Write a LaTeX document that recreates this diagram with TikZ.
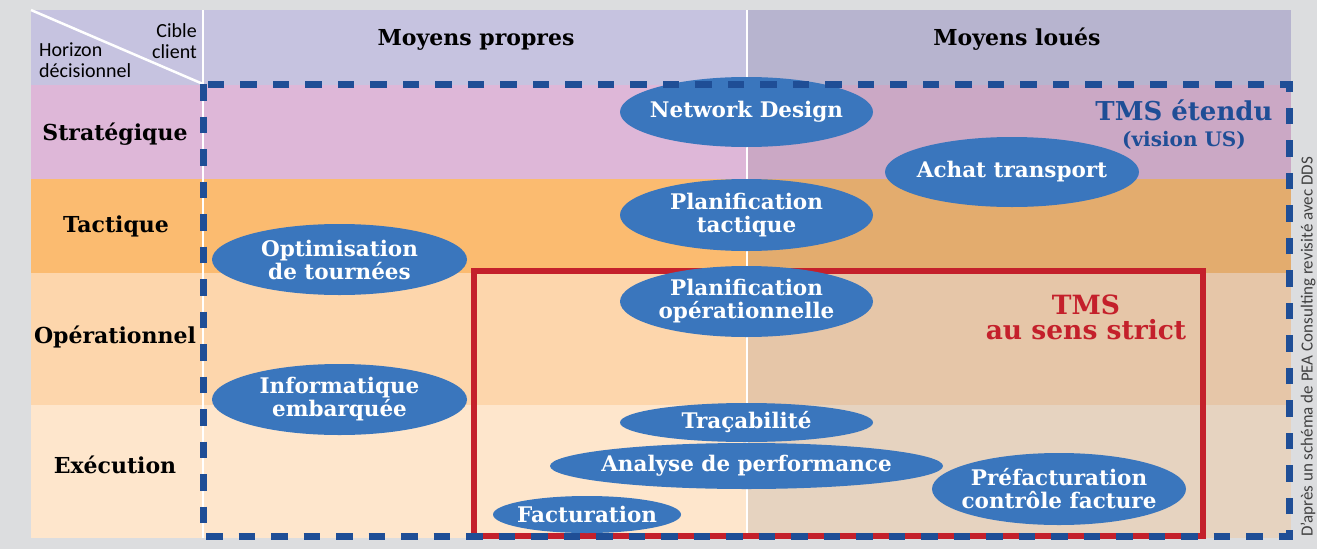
\documentclass[tikz,border=0pt]{standalone}
\usepackage{fontspec}
\usetikzlibrary{shapes.geometric}
\newfontfamily\slabfont{DejaVu Serif}
\newfontfamily\thinfont{Carlito}

\definecolor{bggray}{HTML}{DCDDDF}
\definecolor{headleft}{HTML}{C6C3E0}
\definecolor{headright}{HTML}{B7B4CF}
\definecolor{stratleft}{HTML}{DEB7D8}
\definecolor{stratright}{HTML}{CBA8C5}
\definecolor{tactleft}{HTML}{FBBB70}
\definecolor{tactright}{HTML}{E3AC6E}
\definecolor{opleft}{HTML}{FDD6AC}
\definecolor{opright}{HTML}{E6C6A8}
\definecolor{execleft}{HTML}{FEE6CC}
\definecolor{execright}{HTML}{E6D3C0}
\definecolor{bubbleblue}{HTML}{3A76BD}
\definecolor{tmsblue}{HTML}{1F4E96}
\definecolor{tmsred}{HTML}{C4202B}

\begin{document}
\begin{tikzpicture}[x=1pt,y=-1pt,
	bubble/.style={ellipse,fill=bubbleblue,inner xsep=-40pt,inner ysep=0pt,text=white,align=center,
		font=\slabfont\bfseries\fontsize{21.5}{23}\selectfont},
	rowlabel/.style={anchor=base,inner sep=0pt,font=\slabfont\bfseries\fontsize{22}{24}\selectfont},
	cornerlabel/.style={inner sep=0pt,font=\thinfont\fontsize{20}{22}\selectfont},
	sepline/.style={white,line width=2.5pt},
	tmsbox/.style={line width=6.5pt},
	tmsdash/.style={tmsblue,line width=7pt,dash pattern=on 16.5pt off 16pt}]
	\useasboundingbox (0,0) rectangle (1317,549);
	\fill[bggray] (0,0) rectangle (1317,549);
	% bandes du tableau
	\foreach \ytop/\ybot/\cleft/\cright in {10/85/headleft/headright,85/179/stratleft/stratright,
		179/273/tactleft/tactright,273/405/opleft/opright,405/538/execleft/execright}
	{
		\fill[\cleft] (31,\ytop) rectangle (747,\ybot);
		\fill[\cright] (747,\ytop) rectangle (1291,\ybot);
	}
	\draw[sepline] (31,10) -- (203,84);
	\draw[sepline] (203,10) -- (203,538);
	\draw[sepline] (747,10) -- (747,538);
	% en-tetes
	\node[cornerlabel,anchor=base east] (cible) at (197,37) {Cible};
	\node[cornerlabel,anchor=base east] (client) at (197,58) {client};
	\node[cornerlabel,anchor=base west] (horizon) at (39,56) {Horizon};
	\node[cornerlabel,anchor=base west] (decision) at (39,77) {décisionnel};
	\node[rowlabel] (propres) at (476,45) {Moyens propres};
	\node[rowlabel] (loues) at (1017,45) {Moyens loués};
	\node[rowlabel] (strat) at (115,140) {Stratégique};
	\node[rowlabel] (tact) at (116,232) {Tactique};
	\node[rowlabel] (oper) at (115,343) {Opérationnel};
	\node[rowlabel] (exec) at (115,473) {Exécution};
	% TMS au sens strict
	\draw[tmsbox,tmsred] (474,271) rectangle (1203,536);
	% fonctions
	\node[bubble,minimum width=253pt,minimum height=70pt] (network) at (746.5,112) {Network Design};
	\node[bubble,minimum width=254pt,minimum height=70pt] (achat) at (1012,172) {Achat transport};
	\node[bubble,minimum width=253pt,minimum height=72pt] (plantact) at (746.5,215) {Planification\\tactique};
	\node[bubble,minimum width=253pt,minimum height=71pt] (planop) at (746.5,301.5) {Planification\\opérationnelle};
	\node[bubble,minimum width=255pt,minimum height=71pt] (optim) at (339.5,259.5) {Optimisation\\de tournées};
	\node[bubble,minimum width=255pt,minimum height=71pt] (infoemb) at (339.5,399.5) {Informatique\\embarquée};
	\node[bubble,minimum width=253pt,minimum height=39pt] (tracab) at (746.5,422.5) {Traçabilité};
	\node[bubble,minimum width=393pt,minimum height=46pt] (analyse) at (746.5,466) {Analyse de performance};
	\node[bubble,minimum width=188pt,minimum height=37pt] (factur) at (587,514.5) {Facturation};
	\node[bubble,minimum width=254pt,minimum height=72pt] (prefact) at (1059,489) {Préfacturation\\contrôle facture};
	% TMS etendu
	\draw[tmsdash] (203,84) rectangle (1289,536);
	\node[text=tmsblue,align=center,inner sep=0pt,font=\slabfont\bfseries\fontsize{26}{26}\selectfont] (etendu) at (1184,125)
		{TMS étendu\\{\fontsize{20}{20}\selectfont (vision US)}};
	\node[text=tmsred,align=center,inner sep=0pt,font=\slabfont\bfseries\fontsize{26.5}{25}\selectfont] (strict) at (1086,317)
		{TMS\\au sens strict};
	\node[rotate=90,anchor=center,inner sep=0pt,text=black!75,font=\thinfont\fontsize{17}{19}\selectfont] (credit) at (1308,347)
		{D’après un schéma de PEA Consulting revisité avec DDS};
\end{tikzpicture}
\end{document}
